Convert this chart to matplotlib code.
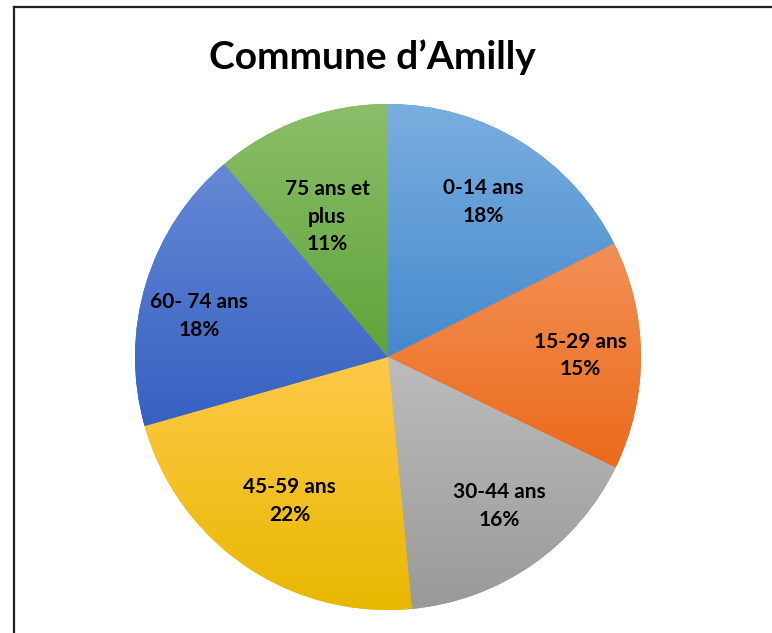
import numpy as np
import matplotlib
matplotlib.use('Agg')
import matplotlib.pyplot as plt
from matplotlib.lines import Line2D
from matplotlib.colors import LinearSegmentedColormap

# Data (shares in %, labels shown rounded)
categories = ['0-14 ans', '15-29 ans', '30-44 ans', '45-59 ans', '60- 74 ans', '75 ans et\nplus']
shares = [17.6, 14.6, 16.3, 22.1, 18.2, 11.2]

# gradient colours per slice (top, bottom)
top_colors = ['#7AAEE0', '#F39056', '#BDBDBD', '#FFC94A', '#6688D4', '#8BBE69']
bottom_colors = ['#4589CC', '#EB6A1A', '#999999', '#E8B800', '#3561C2', '#60A33A']
label_dist = [0.72, 0.76, 0.735, 0.69, 0.765, 0.605]
label_shift = [0, 0, 2, 0, 4.7, 3.3]  # degrees, Excel "best fit" placement

W, H = 772, 633
fig = plt.figure(figsize=(W / 100, H / 100), dpi=100)
ax = fig.add_axes([0, 0, 1, 1])

cx, cy, r = 388, H - 357, 253
wedges, _ = ax.pie(shares, center=(cx, cy), radius=r, startangle=90,
                   counterclock=False, colors=bottom_colors,
                   wedgeprops=dict(linewidth=0))

for i, w in enumerate(wedges):
    ext = w.get_path().get_extents()
    cmap = LinearSegmentedColormap.from_list('g%d' % i, [top_colors[i], bottom_colors[i]])
    grad = np.linspace(0, 1, 256).reshape(-1, 1)
    im = ax.imshow(grad, cmap=cmap, aspect='auto', origin='upper',
                   extent=[ext.x0, ext.x1, ext.y0, ext.y1], zorder=w.get_zorder() + 0.1)
    im.set_clip_path(w)

    ang = np.deg2rad((w.theta1 + w.theta2) / 2 + label_shift[i])
    d = label_dist[i] * r
    txt = '%s\n%.0f%%' % (categories[i], shares[i])
    ax.text(cx + d * np.cos(ang), cy + d * np.sin(ang), txt, ha='center', va='center',
            fontsize=15, fontweight='bold', family='Lato', linespacing=1.45, zorder=5)

ax.set_xlim(0, W)
ax.set_ylim(0, H)
ax.set_aspect('equal')
ax.axis('off')

fig.text(372 / W, 1 - 57 / H, 'Commune d\u2019Amilly', ha='center', va='center',
         fontsize=28, fontweight='bold', family='Lato')

# chart frame
fig.add_artist(Line2D([14 / W, 14 / W], [0, 1 - 7 / H], color='#222222', linewidth=1.6))
fig.add_artist(Line2D([14 / W, 1], [1 - 7 / H, 1 - 7 / H], color='#222222', linewidth=1.6))

fig.savefig('out.png', dpi=100)
